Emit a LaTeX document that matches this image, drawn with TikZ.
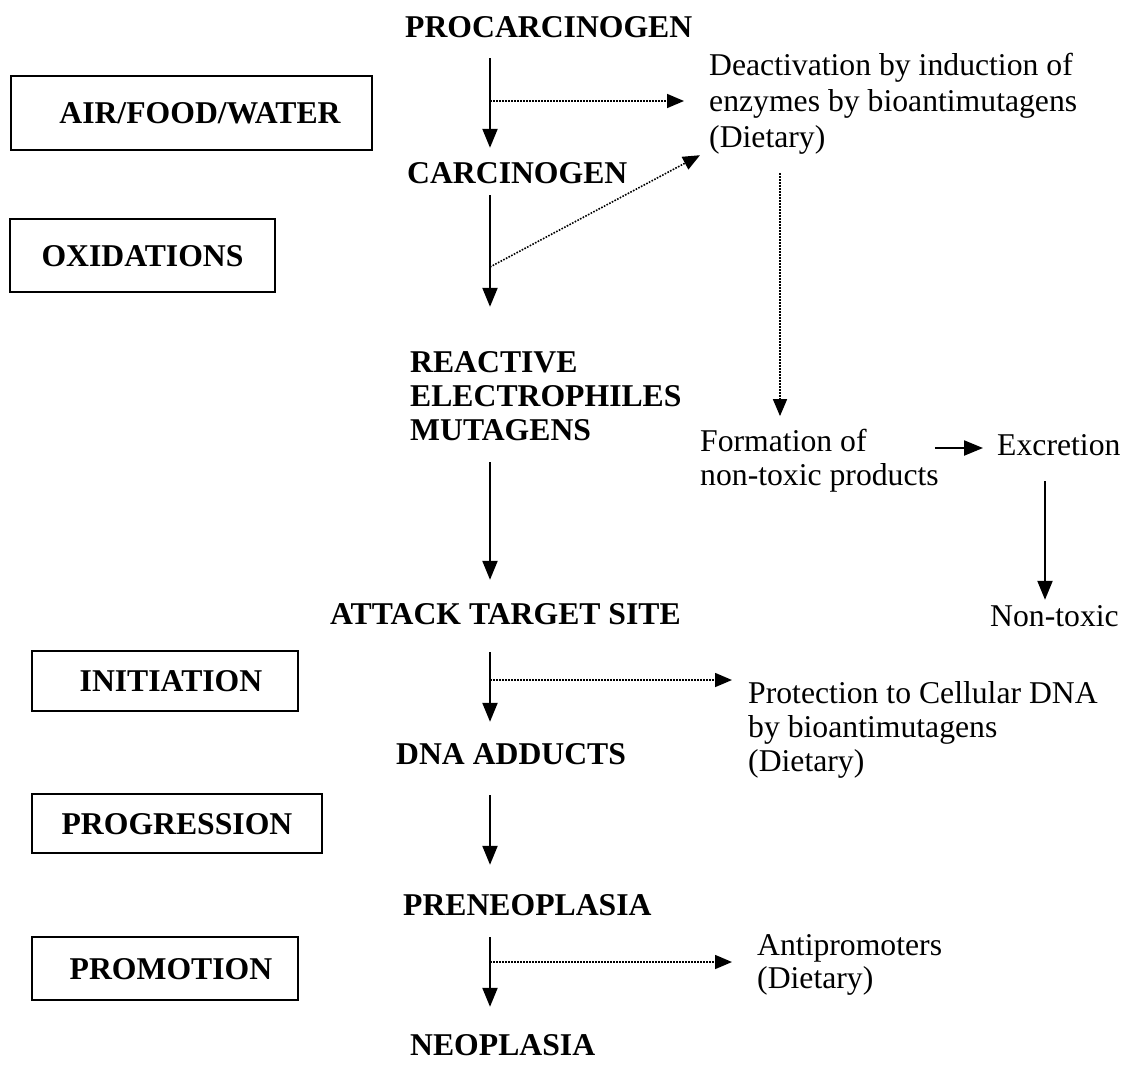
\documentclass[tikz,border=0pt]{standalone}
\usepackage{fontspec}
\setmainfont{Liberation Serif}
\usetikzlibrary{arrows.meta,calc}
\begin{document}
\begin{tikzpicture}[x=1pt,y=-1pt,
  lbl/.style={inner sep=0pt, text height=21pt, text depth=0pt, font=\fontsize{31.7}{35}\selectfont},
  blbl/.style={lbl, font=\fontsize{31.7}{35}\selectfont\bfseries},
  blk/.style={inner sep=0pt, anchor=base west},
  boxed/.style={draw, line width=2pt, inner sep=0pt, text height=21pt, text depth=0pt, font=\fontsize{31.7}{35}\selectfont\bfseries},
  arr/.style={line width=2.2pt, -{Triangle[length=19pt,width=15pt]}},
  dotarr/.style={line width=1.6pt, dash pattern=on 1.6pt off 1.4pt, -{Triangle[length=17pt,width=14pt]}},
]
\useasboundingbox (0,0) rectangle (1132,1069);

% left stage boxes
\node[boxed, minimum width=361pt, minimum height=74pt] (air) at (191.5,113) {\hspace*{17pt}AIR/FOOD/WATER};
\node[boxed, minimum width=265pt, minimum height=73pt] (oxi) at (142.5,255.5) {OXIDATIONS};
\node[boxed, minimum width=266pt, minimum height=60pt] (init) at (165,681) {\hspace*{12pt}INITIATION};
\node[boxed, minimum width=290pt, minimum height=59pt] (prog) at (177,823.5) {PROGRESSION};
\node[boxed, minimum width=266pt, minimum height=63pt] (prom) at (165,968.5) {\hspace*{12pt}PROMOTION};

% central column
\node[blbl, anchor=base west] (proc) at (405,37.5) {PROCARCINOGEN};
\node[blbl, anchor=base west] (carc) at (407,183.5) {CARCINOGEN};
\node[blk, font=\fontsize{31.7}{34}\selectfont\bfseries] (react) at (410,372.5)
  {\begin{tabular}[t]{@{}l@{}}REACTIVE\\ELECTROPHILES\\MUTAGENS\end{tabular}};
\node[blbl, anchor=base west] (attack) at (330,624.5) {ATTACK TARGET SITE};
\node[blbl, anchor=base west] (dna) at (396,764.5) {DNA ADDUCTS};
\node[blbl, anchor=base west] (pren) at (403,915.5) {PRENEOPLASIA};
\node[blbl, anchor=base west] (neo) at (410,1055.5) {NEOPLASIA};

% right column
\node[blk, font=\fontsize{31.7}{36}\selectfont] (deact) at (709,75)
  {\begin{tabular}[t]{@{}l@{}}Deactivation by induction of\\enzymes by bioantimutagens\\(Dietary)\end{tabular}};
\node[blk, font=\fontsize{31.7}{34}\selectfont] (form) at (700,451)
  {\begin{tabular}[t]{@{}l@{}}Formation of\\non-toxic products\end{tabular}};
\node[lbl, anchor=base west, text height=14pt] (excr) at (997,455) {Excretion};
\node[lbl, anchor=base west] (nontox) at (990,626) {Non-toxic};
\node[blk, font=\fontsize{31.7}{34}\selectfont] (prot) at (748,703)
  {\begin{tabular}[t]{@{}l@{}}Protection to Cellular DNA\\by bioantimutagens\\(Dietary)\end{tabular}};
\node[blk, font=\fontsize{31.7}{33}\selectfont] (anti) at (757,955)
  {\begin{tabular}[t]{@{}l@{}}Antipromoters\\(Dietary)\end{tabular}};

% spine and branch points
\coordinate (spine) at (490,0);
\coordinate (br1) at (490,101);
\coordinate (br2) at (490,267);
\coordinate (br3) at (490,680);
\coordinate (br4) at (490,962);
\coordinate (vx) at (780,0);
\coordinate (vx2) at (1045,0);

% main arrows
\draw[arr, shorten <=20.5pt, shorten >=14.5pt] (proc.south -| spine) -- (carc.north -| spine);
\draw[arr, shorten <=11.5pt, shorten >=41.7pt] (carc.south -| spine) -- (react.north -| spine);
\draw[arr, shorten <=11.3pt, shorten >=23.5pt] (react.south -| spine) -- (attack.north -| spine);
\draw[arr, shorten <=27.5pt, shorten >=21.5pt] (attack.south -| spine) -- (dna.north -| spine);
\draw[arr, shorten <=30.5pt, shorten >=29.5pt] (dna.south -| spine) -- (pren.north -| spine);
\draw[arr, shorten <=21.5pt, shorten >=27.5pt] (pren.south -| spine) -- (neo.north -| spine);

% dotted branches
\draw[dotarr, shorten >=25pt] (br1) -- (br1 -| deact.west);
\draw[dotarr] (br2) -- ($(deact.south west)+(-9,-2.8)$);
\draw[dotarr, shorten <=15.2pt, shorten >=10.9pt] (deact.south -| vx) -- (form.north -| vx);
\draw[dotarr, shorten >=16pt] (br3) -- (br3 -| prot.west);
\draw[dotarr, shorten >=25pt] (br4) -- (br4 -| anti.west);

% excretion path
\draw[arr, shorten <=-4pt, shorten >=14pt] (form.east |- excr.west) -- (excr.west);
\draw[arr, shorten <=26pt, shorten >=5pt] (excr.south -| vx2) -- (nontox.north -| vx2);
\end{tikzpicture}
\end{document}
